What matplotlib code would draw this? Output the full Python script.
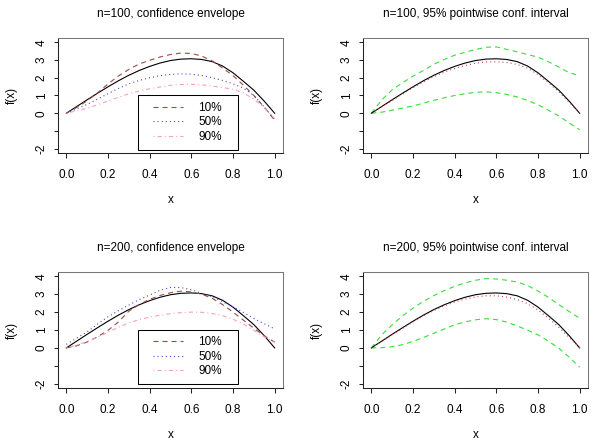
"""Four-panel comparison of confidence envelopes vs pointwise intervals
(n=100 and n=200), drawn to look like base-R graphics."""
import matplotlib
matplotlib.use("Agg")
import matplotlib.pyplot as plt
from matplotlib.lines import Line2D
from matplotlib.legend_handler import HandlerLine2D

plt.rcParams.update({
    "font.family": ["Liberation Sans", "DejaVu Sans"],
    "font.size": 8.5,
    "lines.scale_dashes": False,
    "axes.unicode_minus": False,
})

# ---- data: curves sampled on a 0.05 grid ----
X_GRID = [0.00, 0.05, 0.10, 0.15, 0.20, 0.25, 0.30, 0.35, 0.40, 0.45, 0.50,
          0.55, 0.60, 0.65, 0.70, 0.75, 0.80, 0.85, 0.90, 0.95, 1.00]

TRUE_F = [0.00, 0.38, 0.76, 1.13, 1.49, 1.83, 2.14, 2.41, 2.64, 2.83, 2.97,
          3.05, 3.07, 3.03, 2.91, 2.66, 2.28, 1.80, 1.30, 0.68, 0.00]

# n=100, confidence envelope
N100_Q10 = [0.00, 0.33, 0.70, 1.15, 1.65, 2.10, 2.47, 2.78, 2.98, 3.17, 3.31,
            3.39, 3.37, 3.22, 2.95, 2.55, 2.12, 1.58, 1.00, 0.35, -0.40]
N100_Q50 = [0.00, 0.25, 0.50, 0.80, 1.10, 1.40, 1.66, 1.85, 2.00, 2.12, 2.19,
            2.22, 2.20, 2.13, 2.00, 1.85, 1.66, 1.42, 1.00, 0.35, -0.35]
N100_Q90 = [0.00, 0.14, 0.28, 0.48, 0.69, 0.90, 1.10, 1.25, 1.38, 1.48, 1.57,
            1.62, 1.63, 1.60, 1.53, 1.45, 1.35, 1.15, 0.80, 0.30, -0.30]

# n=100, pointwise interval
N100_EST = [0.00, 0.36, 0.72, 1.08, 1.44, 1.77, 2.06, 2.32, 2.52, 2.69, 2.82,
            2.89, 2.90, 2.86, 2.75, 2.54, 2.18, 1.72, 1.20, 0.62, 0.02]
N100_LO = [0.00, 0.06, 0.17, 0.29, 0.41, 0.57, 0.73, 0.87, 1.00, 1.10, 1.18,
           1.21, 1.16, 1.06, 0.92, 0.72, 0.48, 0.17, -0.15, -0.55, -0.93]
N100_HI = [0.00, 0.75, 1.32, 1.72, 2.09, 2.41, 2.76, 3.03, 3.27, 3.44, 3.59,
           3.72, 3.74, 3.60, 3.46, 3.31, 3.16, 2.90, 2.60, 2.28, 2.12]

# n=200, confidence envelope
N200_Q10 = [0.00, 0.12, 0.33, 0.62, 0.98, 1.45, 2.05, 2.42, 2.72, 2.93, 3.08,
            3.17, 3.13, 3.00, 2.77, 2.42, 2.00, 1.55, 1.10, 0.68, 0.32]
N200_Q50 = [0.20, 0.55, 0.90, 1.33, 1.74, 2.08, 2.39, 2.70, 2.95, 3.22, 3.38,
            3.37, 3.25, 3.05, 2.85, 2.58, 2.30, 1.98, 1.64, 1.35, 1.06]
N200_Q90 = [0.00, 0.15, 0.35, 0.60, 0.87, 1.15, 1.40, 1.58, 1.72, 1.83, 1.91,
            1.97, 2.00, 1.99, 1.92, 1.80, 1.60, 1.33, 0.98, 0.62, 0.30]

# n=200, pointwise interval
N200_EST = [0.00, 0.36, 0.73, 1.09, 1.45, 1.79, 2.09, 2.35, 2.56, 2.73, 2.85,
            2.91, 2.91, 2.84, 2.70, 2.47, 2.12, 1.66, 1.15, 0.58, 0.00]
N200_LO = [0.00, 0.01, 0.07, 0.18, 0.36, 0.58, 0.82, 1.06, 1.29, 1.45, 1.57,
           1.63, 1.58, 1.44, 1.23, 0.99, 0.73, 0.38, -0.02, -0.52, -1.08]
N200_HI = [0.00, 0.73, 1.29, 1.79, 2.22, 2.60, 2.92, 3.20, 3.44, 3.63, 3.78,
           3.87, 3.85, 3.78, 3.68, 3.48, 3.18, 2.82, 2.42, 2.03, 1.66]

LEGEND_LABELS = ["10%", "50%", "90%"]
XTICKS = [0.0, 0.2, 0.4, 0.6, 0.8, 1.0]
XTICKLABELS = ["0.0", "0.2", "0.4", "0.6", "0.8", "1.0"]
YTICKS = [-2, -1, 0, 1, 2, 3, 4]
YTICKLABELS = ["-2", "", "0", "1", "2", "3", "4"]

# R-like line types (in points)
DASHED = (0, (3.6, 2.9))
DOTTED = (0, (0.75, 2.2))
DOTDASH = (0, (0.75, 2.2, 3.0, 2.2))
LW = 0.8

C_Q10 = "#a04848"
C_Q50 = "#4040c8"
C_Q90 = "#f2a4b8"
C_CI = "#38dd38"
C_EST = "#cc4040"


def style(ax, title):
    ax.set_xlim(-0.04, 1.04)
    ax.set_ylim(-2.24, 4.24)
    ax.set_xticks(XTICKS)
    ax.set_xticklabels(XTICKLABELS)
    ax.set_yticks(YTICKS)
    ax.set_yticklabels(YTICKLABELS, rotation=90, va="center")
    ax.tick_params(axis="x", length=3.4, width=0.75, pad=8.2, color="#222222")
    ax.tick_params(axis="y", length=3.0, width=0.75, pad=4.5, color="#222222")
    for s in ("left", "bottom"):
        ax.spines[s].set_color("#222222")
    for s in ("top", "right"):
        ax.spines[s].set_color("#777777")
    for s in ax.spines.values():
        s.set_linewidth(0.75)
    ax.set_title(title, fontsize=8.5, pad=15)
    ax.set_xlabel("x", va="center")
    ax.xaxis.set_label_coords(0.5, -47 / 115)
    ax.set_ylabel("f(x)", va="center")
    ax.yaxis.set_label_coords(-46 / 225, 0.5)


def envelope(ax, q10, q50, q90, title):
    ax.plot(X_GRID, TRUE_F, color="black", lw=LW)
    h1, = ax.plot(X_GRID, q10, color=C_Q10, lw=LW, ls=DASHED)
    h2, = ax.plot(X_GRID, q50, color=C_Q50, lw=LW, ls=DOTTED)
    h3, = ax.plot(X_GRID, q90, color=C_Q90, lw=LW, ls=DOTDASH)
    style(ax, title)
    leg = ax.legend([h1, h2, h3], LEGEND_LABELS, loc="upper left",
                    bbox_to_anchor=(0.346, -2.03, 0.476, 3.05),
                    bbox_transform=ax.transData, mode="expand",
                    borderaxespad=0, borderpad=0.56, labelspacing=0.22,
                    handlelength=3.25, handletextpad=1.27, fancybox=False,
                    framealpha=1, edgecolor="black",
                    handler_map={Line2D: HandlerLine2D(xpad=0.71)})
    leg.get_frame().set_linewidth(0.75)


def pointwise(ax, est, lo, hi, title):
    ax.plot(X_GRID, hi, color=C_CI, lw=LW, ls=DASHED)
    ax.plot(X_GRID, lo, color=C_CI, lw=LW, ls=DASHED)
    ax.plot(X_GRID, TRUE_F, color="black", lw=LW)
    ax.plot(X_GRID, est, color=C_EST, lw=LW, ls=DOTTED)
    style(ax, title)


fig = plt.figure(figsize=(6.0, 4.43), dpi=100)
ax_tl = fig.add_axes([58 / 600, 1 - 153 / 443, 225 / 600, 115 / 443])
ax_tr = fig.add_axes([363 / 600, 1 - 153 / 443, 225 / 600, 115 / 443])
ax_bl = fig.add_axes([58 / 600, 1 - 388 / 443, 225 / 600, 116 / 443])
ax_br = fig.add_axes([363 / 600, 1 - 388 / 443, 225 / 600, 116 / 443])

envelope(ax_tl, N100_Q10, N100_Q50, N100_Q90, "n=100, confidence envelope")
pointwise(ax_tr, N100_EST, N100_LO, N100_HI,
          "n=100, 95% pointwise conf. interval")
envelope(ax_bl, N200_Q10, N200_Q50, N200_Q90, "n=200, confidence envelope")
pointwise(ax_br, N200_EST, N200_LO, N200_HI,
          "n=200, 95% pointwise conf. interval")

fig.savefig("out.png", dpi=100)
